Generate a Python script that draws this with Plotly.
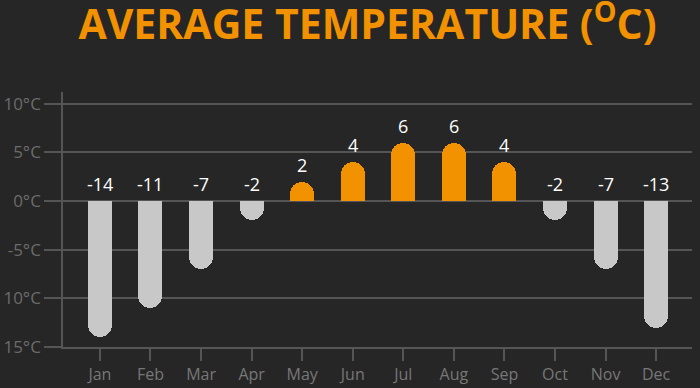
import plotly.graph_objects as go

months = ["Jan", "Feb", "Mar", "Apr", "May", "Jun", "Jul", "Aug", "Sep", "Oct", "Nov", "Dec"]
temps = [-14, -11, -7, -2, 2, 4, 6, 6, 4, -2, -7, -13]
ytick_vals = [10, 5, 0, -5, -10, -15]
ytick_text = ["10°C", "5°C", "0°C", "-5°C", "10°C", "15°C"]

ORANGE = "#F39200"
GREY = "#C8C8C8"
BG = "#262626"
GRID = "#555555"

xs = list(range(len(months)))
colors = [ORANGE if t > 0 else GREY for t in temps]

fig = go.Figure()
fig.add_trace(go.Bar(
    x=xs, y=temps, width=0.475,
    marker=dict(color=colors, line=dict(width=0), cornerradius="50%"),
    hoverinfo="skip",
))

for x, t in zip(xs, temps):
    fig.add_annotation(
        x=x, y=max(t, 0), text=str(t), showarrow=False,
        xanchor="center", yanchor="bottom", yshift=3,
        font=dict(family="Open Sans", size=18, color="white"),
    )

fig.update_layout(
    width=700, height=388,
    paper_bgcolor=BG, plot_bgcolor=BG,
    margin=dict(l=63, r=8, t=92, b=41, autoexpand=False),
    showlegend=False,
    title=dict(
        text="AVERAGE TEMPERATURE (<sup>O</sup>C)",
        font=dict(family="Open Sans", size=41, color=ORANGE, weight="bold"),
        x=0.525, xanchor="center", xref="container",
        y=0.937, yanchor="middle",
    ),
    xaxis=dict(
        range=[-0.73, 11.71],
        tickvals=xs, ticktext=months,
        showgrid=False, zeroline=False, automargin=False,
        showline=True, linecolor=GRID, linewidth=2,
        ticks="outside", ticklen=12, tickcolor=GRID, tickwidth=1.5,
        tickfont=dict(family="Open Sans", size=16, color="#777777"),
    ),
    yaxis=dict(
        range=[-15, 11.2],
        tickvals=ytick_vals, ticktext=ytick_text,
        showgrid=True, gridcolor=GRID, gridwidth=1.5,
        zeroline=False, automargin=False,
        showline=True, linecolor=GRID, linewidth=1.5,
        ticks="outside", ticklen=17, tickcolor=GRID, tickwidth=1.5,
        tickfont=dict(family="Open Sans", size=17, color="#6b6b6b"),
        ticklabelstandoff=0,
    ),
    bargap=0,
)

fig.write_html(
    "out.html",
    config={"displayModeBar": False},
    post_script="document.body.style.margin='0';document.body.style.background='#262626';",
)
